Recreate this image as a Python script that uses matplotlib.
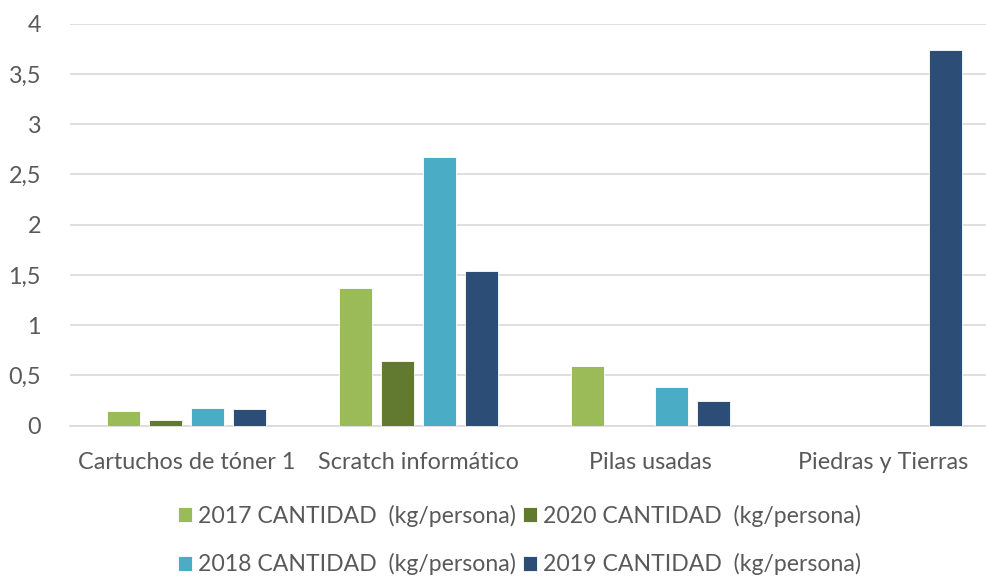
import matplotlib
matplotlib.use("Agg")
import matplotlib.pyplot as plt
import numpy as np

categories = ["Cartuchos de tóner 1", "Scratch informático", "Pilas usadas", "Piedras y Tierras"]
series_names = ["2017 CANTIDAD  (kg/persona)", "2020 CANTIDAD  (kg/persona)",
                "2018 CANTIDAD  (kg/persona)", "2019 CANTIDAD  (kg/persona)"]
v2017 = [0.15, 1.37, 0.59, 0.0]
v2020 = [0.06, 0.64, 0.0, 0.0]
v2018 = [0.18, 2.67, 0.38, 0.0]
v2019 = [0.17, 1.54, 0.25, 3.74]
colors = ["#9BBB59", "#617A30", "#4BACC6", "#2C4D75"]
yticks = [0, 0.5, 1, 1.5, 2, 2.5, 3, 3.5, 4]
ytick_labels = ["0", "0,5", "1", "1,5", "2", "2,5", "3", "3,5", "4"]

plt.rcParams['font.family'] = ['Lato', 'DejaVu Sans']
text_color = "#595959"

fig = plt.figure(figsize=(9.87, 5.76), dpi=100)
ax = fig.add_axes([0.0712, 0.261, 0.941, 0.698])

x = np.arange(len(categories))
width = 0.142
step = 0.181
series = [v2017, v2020, v2018, v2019]
bars = []
for i, (vals, c, name) in enumerate(zip(series, colors, series_names)):
    b = ax.bar(x + (i - 1.5) * step, vals, width, color=c, label=name, zorder=3,
               edgecolor="white", linewidth=0.6)
    bars.append(b)

ax.set_xlim(-0.5, len(categories) - 0.5)
ax.set_ylim(0, 4)
ax.set_yticks(yticks)
ax.set_yticklabels(ytick_labels)
ax.set_xticks(x)
ax.set_xticklabels(categories)
ax.yaxis.grid(True, color="#D9D9D9", linewidth=1.2, zorder=0)
ax.set_axisbelow(True)
for s in ["top", "right", "left"]:
    ax.spines[s].set_visible(False)
ax.spines["bottom"].set_color("#D9D9D9")
ax.spines["bottom"].set_linewidth(1.2)
ax.tick_params(axis="both", length=0, labelsize=16.8, colors=text_color)
ax.tick_params(axis="y", pad=21)
ax.tick_params(axis="x", pad=19)

handles = [bars[0], bars[2], bars[1], bars[3]]
labels = [series_names[0], series_names[2], series_names[1], series_names[3]]
leg = fig.legend(handles, labels, ncol=2, loc="center", bbox_to_anchor=(0.526, 0.0625),
                 frameon=False, fontsize=16.6, labelcolor=text_color,
                 handlelength=0.62, handleheight=0.62, handletextpad=0.25,
                 columnspacing=0.3, labelspacing=1.15)

fig.savefig("out.png", dpi=100)
